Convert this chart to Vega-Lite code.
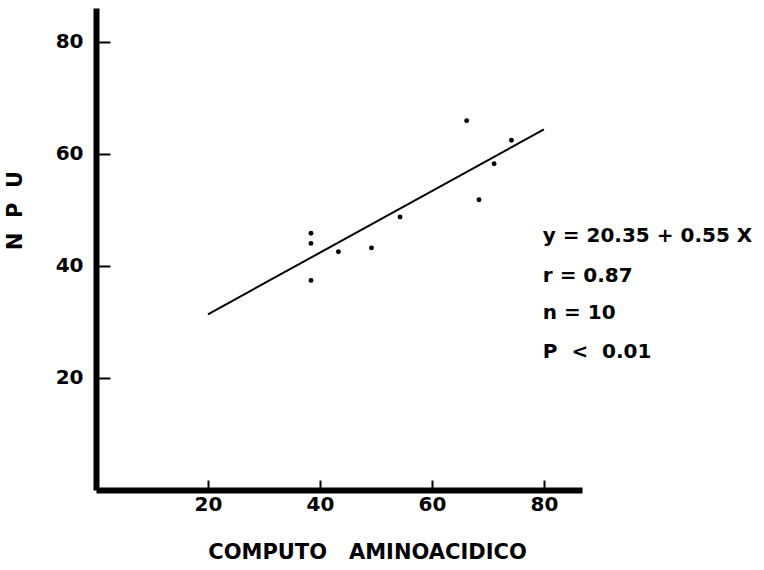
{
  "$schema": "https://vega.github.io/schema/vega-lite/v6.json",
  "autosize": "none",
  "width": 486,
  "height": 482,
  "padding": {"left": 96, "top": 8, "right": 182, "bottom": 80},
  "background": "white",
  "config": {
    "view": {"stroke": null},
    "axis": {
      "grid": false,
      "domainColor": "black",
      "domainWidth": 6,
      "tickColor": "black",
      "tickWidth": 2,
      "labelFont": "DejaVu Sans",
      "labelFontWeight": "bold",
      "labelFontSize": 20,
      "labelColor": "black",
      "titleFont": "DejaVu Sans",
      "titleFontWeight": "bold",
      "titleFontSize": 21,
      "titleColor": "black"
    }
  },
  "datasets": {
    "points": [
      {"computo": 38.4, "npu": 45.8},
      {"computo": 38.4, "npu": 44.0},
      {"computo": 38.4, "npu": 37.4},
      {"computo": 43.3, "npu": 42.5},
      {"computo": 49.2, "npu": 43.2},
      {"computo": 54.3, "npu": 48.7},
      {"computo": 66.2, "npu": 65.9},
      {"computo": 68.4, "npu": 51.8},
      {"computo": 71.1, "npu": 58.2},
      {"computo": 74.2, "npu": 62.4}
    ],
    "fit": [
      {"computo": 20, "npu": 31.35},
      {"computo": 80, "npu": 64.35}
    ],
    "notes": [
      {"computo": 79.8, "npu": 45.3, "text": "y = 20.35 + 0.55 X"},
      {"computo": 79.8, "npu": 38.1, "text": "r = 0.87"},
      {"computo": 79.8, "npu": 31.6, "text": "n = 10"},
      {"computo": 79.8, "npu": 24.7, "text": "P\u00a0\u00a0<\u00a0\u00a00.01"}
    ]
  },
  "layer": [
    {
      "data": {"name": "points"},
      "mark": {"type": "point", "filled": true, "color": "black", "size": 24, "opacity": 1},
      "encoding": {
        "x": {
          "field": "computo", "type": "quantitative",
          "scale": {"domain": [0, 86.8], "nice": false, "zero": false},
          "axis": {
            "values": [20, 40, 60, 80],
            "tickSize": -10,
            "labelPadding": 14,
            "title": "COMPUTO\u00a0\u00a0\u00a0AMINOACIDICO",
            "titleX": 271,
            "titleY": 62,
            "titleAlign": "center",
            "titleBaseline": "middle"
          }
        },
        "y": {
          "field": "npu", "type": "quantitative",
          "scale": {"domain": [0, 86], "nice": false, "zero": false},
          "axis": {
            "values": [20, 40, 60, 80],
            "tickSize": -14,
            "labelPadding": 27,
            "title": "N\u00a0\u00a0P\u00a0\u00a0U",
            "titleX": -81,
            "titleY": 202,
            "titleAngle": -90,
            "titleAlign": "center",
            "titleBaseline": "middle"
          }
        }
      }
    },
    {
      "data": {"name": "fit"},
      "mark": {"type": "line", "color": "black", "strokeWidth": 2},
      "encoding": {
        "x": {"field": "computo", "type": "quantitative"},
        "y": {"field": "npu", "type": "quantitative"}
      }
    },
    {
      "data": {"name": "notes"},
      "mark": {"type": "text", "align": "left", "baseline": "middle", "font": "DejaVu Sans", "fontWeight": "bold", "fontSize": 20, "color": "black"},
      "encoding": {
        "x": {"field": "computo", "type": "quantitative"},
        "y": {"field": "npu", "type": "quantitative"},
        "text": {"field": "text"}
      }
    }
  ]
}
